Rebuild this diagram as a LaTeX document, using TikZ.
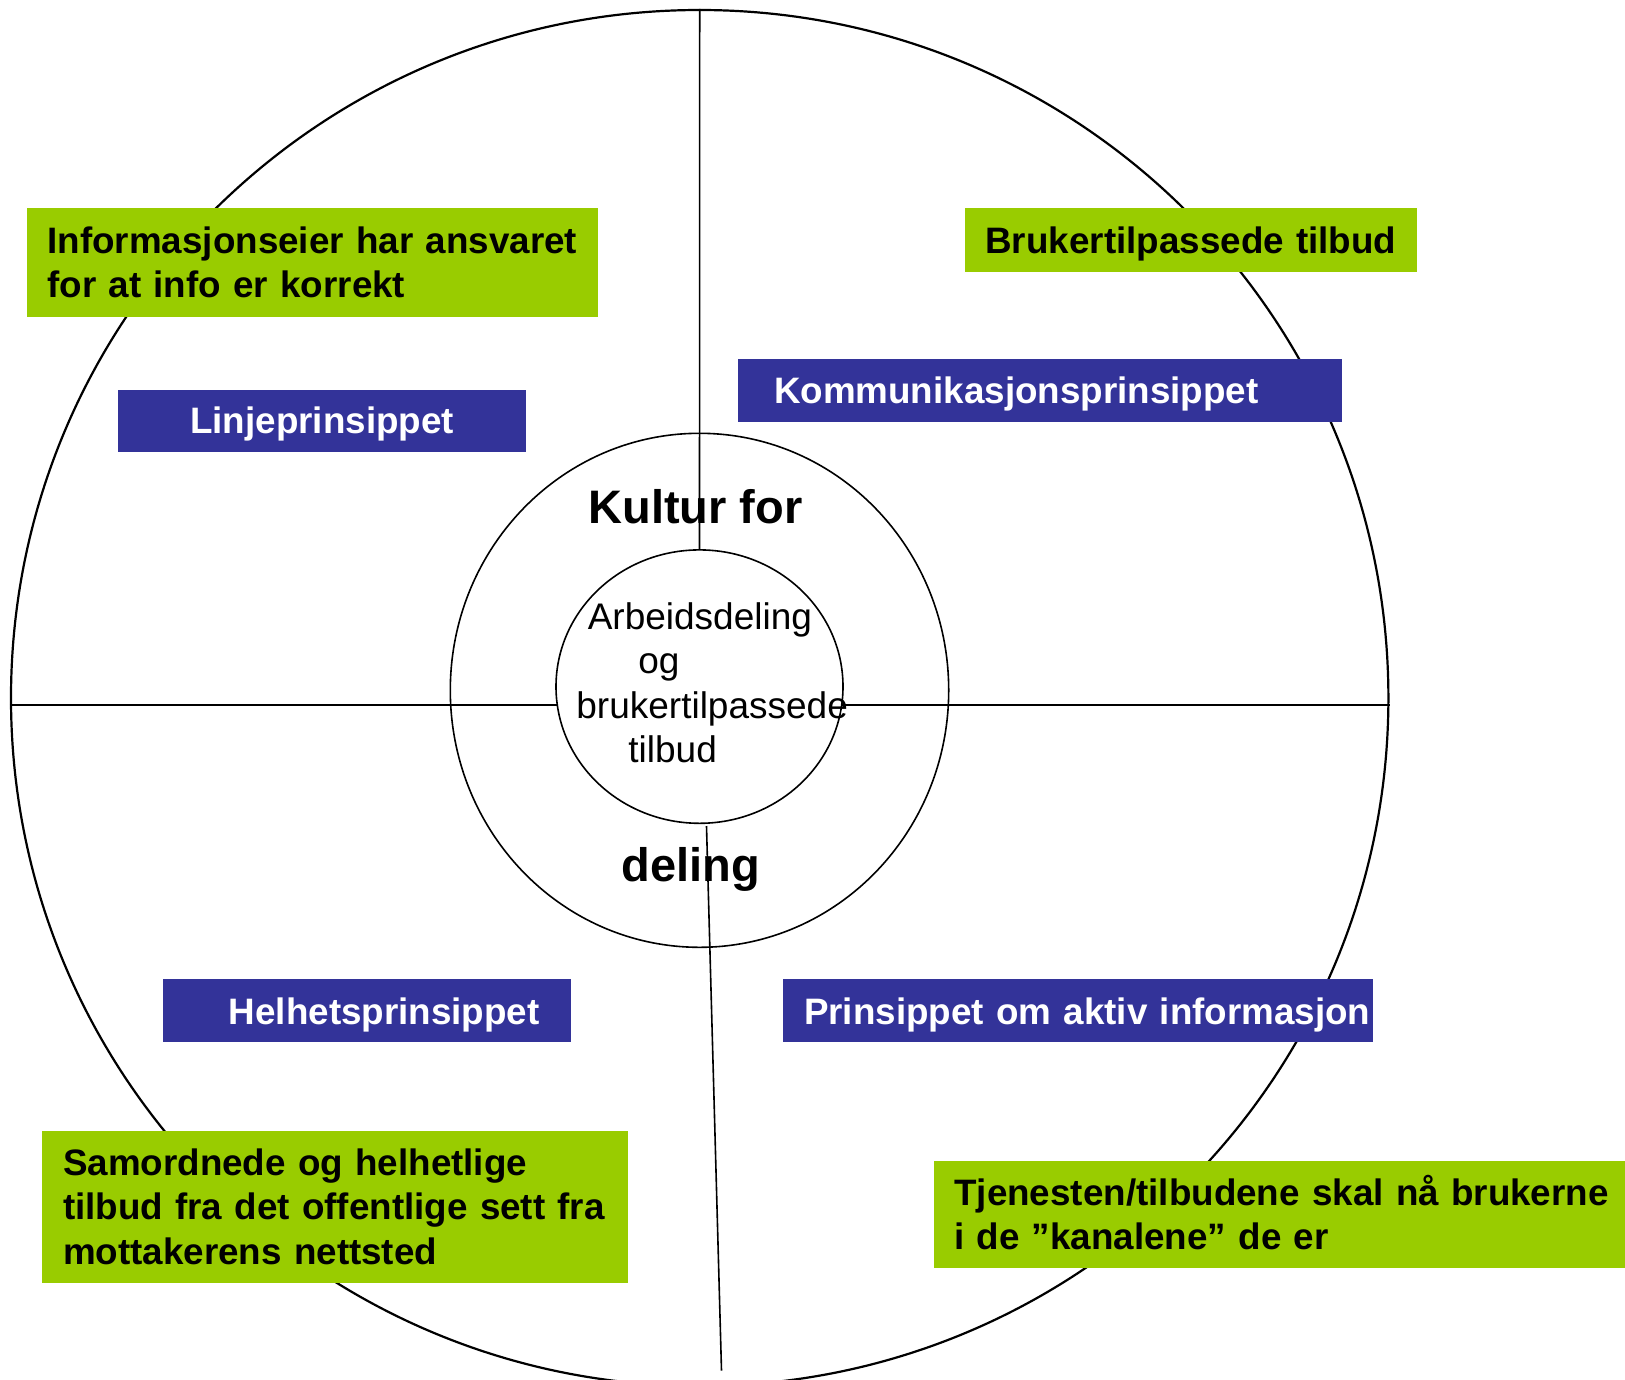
\documentclass[tikz,border=0pt]{standalone}
\usepackage{fontspec}
\setmainfont{Liberation Sans}
\usetikzlibrary{shapes.geometric}
\definecolor{leafgreen}{HTML}{99CC00}
\definecolor{inkblue}{HTML}{333399}

\begin{document}
\begin{tikzpicture}
	[x=1pt, y=-1pt, line width=1.6pt,
	 ring/.style={draw, ellipse, inner sep=0pt},
	 padleft/.style={execute at begin node={\leftskip=#1\relax}},
	 textbox/.style={anchor=north west, inner xsep=0pt, inner ysep=0pt, align=left,
	   font=\fontsize{36.8}{44.3}\selectfont\bfseries, text height=26.4pt, text depth=0pt},
	 greenbox/.style={textbox, fill=leafgreen},
	 bluebox/.style={textbox, fill=inkblue, text=white}]
   \useasboundingbox (0,0) rectangle (1625,1379);
   % rings
   \node[ring, line width=2.2pt, minimum width=1377.4, minimum height=1376] (outer) at (699.7,698) {};
   \node[ring, minimum width=498.4, minimum height=514] (middle) at (699.5,690.3) {};
   \coordinate (cut_top) at (706.5,826);
   \coordinate (cut_bot) at (721.5,1370.7);
   \draw ([yshift=-7pt]outer.west) -- ([yshift=-7pt]outer.east);
   \draw (cut_top) -- (cut_bot);
   \node[ring, fill=white, minimum width=287, minimum height=273.4] (inner) at (699.5,686.6) {};
   \draw (outer.north) -- (inner.north);
   % texts in the rings
   \node[anchor=base, inner sep=0pt, font=\fontsize{47}{56}\selectfont\bfseries] (kultur) at (695.5,523.3) {Kultur for};
   \node[anchor=base, inner sep=0pt, font=\fontsize{47}{56}\selectfont\bfseries] (deling) at (690.5,881.7) {deling};
   \node[anchor=base west, inner sep=0pt, text width=290pt, align=left,
     font=\fontsize{37}{44.5}\selectfont] (core) at (575.6,629)
     {\hspace*{11.4pt}Arbeidsdeling\\ \hspace*{62pt}og\\ brukertilpassede\\ \hspace*{52pt}tilbud};
   % green boxes
   \node[greenbox, text width=571.1pt, minimum height=108.8pt, text depth=44.3pt, padleft=20.7pt]
     (ansvar) at (25.9,207.3) {Informasjonseier har ansvaret\\ for at info er korrekt};
   \node[greenbox, text width=451.8pt, minimum height=64.2pt, padleft=20.7pt]
     (tilbud) at (963.9,207.3) {Brukertilpassede tilbud};
   \node[greenbox, text width=585.5pt, minimum height=152.3pt, text depth=88.6pt, padleft=20.7pt]
     (samordnet) at (41.5,1129.7) {Samordnede og helhetlige\\ tilbud fra det offentlige sett fra\\ mottakerens nettsted};
   \node[greenbox, text width=692.2pt, minimum height=107.8pt, text depth=44.3pt, padleft=20.7pt]
     (kanal) at (932.8,1159.7) {\mbox{Tjenesten/tilbudene skal nå brukerne}\\ i de ”kanalene” de er};
   % blue boxes
   \node[bluebox, text width=408.4pt, minimum height=62.1pt, align=center]
     (linje) at (117.1,388.7) {Linjeprinsippet};
   \node[bluebox, text width=604.2pt, minimum height=62.2pt, padleft=36.3pt]
     (komm) at (736.9,358.6) {Kommunikasjonsprinsippet};
   \node[bluebox, text width=408.3pt, minimum height=63.2pt, padleft=66.3pt]
     (helhet) at (161.7,978.4) {Helhetsprinsippet};
   \node[bluebox, text width=589.7pt, minimum height=63.2pt, padleft=20.7pt]
     (aktiv) at (782.5,978.4) {\mbox{Prinsippet om aktiv informasjon}};
\end{tikzpicture}
\end{document}
